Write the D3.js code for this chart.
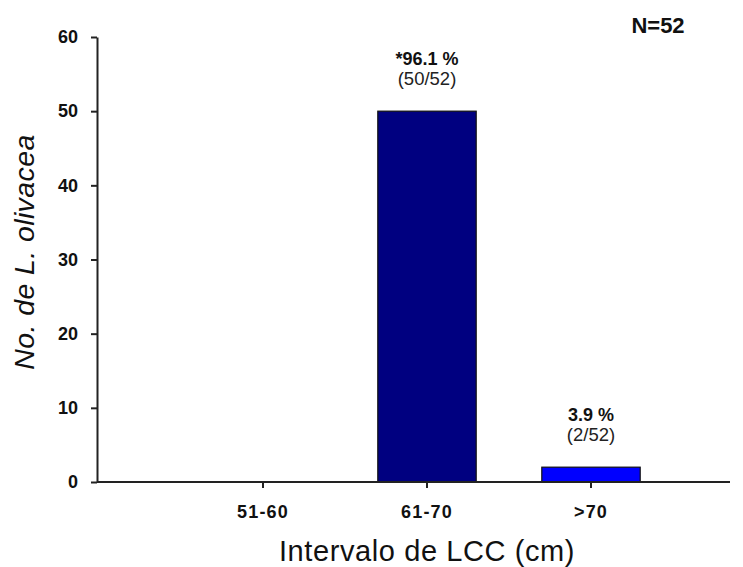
<!DOCTYPE html>
<html>
<head>
<meta charset="utf-8">
<script src="https://cdn.jsdelivr.net/npm/d3@7"></script>
<style>
  body { margin: 0; background: #fff; }
  svg { display: block; font-family: "Liberation Sans", Arial, sans-serif; }
</style>
</head>
<body>
<svg id="chart" width="743" height="567"></svg>
<script>
const CATEGORIES = ['51-60', '61-70', '>70'];
const COUNTS = [0, 50, 2];
const PCT_LABELS = ['', '*96.1 %', '3.9 %'];
const FRAC_LABELS = ['', '(50/52)', '(2/52)'];
const BAR_COLORS = ['#000080', '#000080', '#0000ff'];
const Y_TICKS = [0, 10, 20, 30, 40, 50, 60];

(function () {
  const svg = d3.select('#chart');
  const m = { left: 97, right: 730, top: 37, bottom: 482 };
  const FONT = '"Liberation Sans", Arial, sans-serif';

  const x = d3.scaleBand().domain(CATEGORIES).range([181, 673]).padding(0);
  const y = d3.scaleLinear().domain([0, 60]).range([m.bottom, m.top]);
  const barW = x.bandwidth() * 0.6;

  // bars
  svg.selectAll('rect.bar')
    .data(CATEGORIES)
    .join('rect')
    .attr('class', 'bar')
    .attr('x', (d) => x(d) + (x.bandwidth() - barW) / 2)
    .attr('y', (d, i) => y(COUNTS[i]))
    .attr('width', barW)
    .attr('height', (d, i) => y(0) - y(COUNTS[i]))
    .attr('fill', (d, i) => BAR_COLORS[i])
    .attr('stroke', '#111')
    .attr('stroke-width', 1.2)
    .attr('display', (d, i) => COUNTS[i] > 0 ? null : 'none');

  // y axis
  const yAxis = svg.append('g')
    .attr('transform', `translate(${m.left},0)`)
    .call(d3.axisLeft(y).tickValues(Y_TICKS).tickSize(6).tickSizeOuter(0).tickPadding(13));
  yAxis.select('.domain').attr('stroke', '#222').attr('stroke-width', 2);
  yAxis.selectAll('.tick line').attr('stroke', '#222').attr('stroke-width', 2);
  yAxis.selectAll('.tick text')
    .style('font-size', '18px').style('font-weight', 'bold').style('font-family', FONT)
    .attr('fill', '#111');

  // x axis
  const xAxis = svg.append('g')
    .attr('transform', `translate(0,${m.bottom})`)
    .call(d3.axisBottom(x).tickSize(6).tickSizeOuter(0).tickPadding(17));
  xAxis.select('.domain').remove();
  xAxis.append('line')
    .attr('x1', m.left).attr('x2', m.right).attr('y1', 0).attr('y2', 0)
    .attr('stroke', '#222').attr('stroke-width', 2);
  xAxis.selectAll('.tick line').attr('stroke', '#222').attr('stroke-width', 2);
  xAxis.selectAll('.tick text')
    .style('font-size', '18px').style('font-weight', 'bold').style('font-family', FONT)
    .style('letter-spacing', '1.2px')
    .attr('fill', '#111');

  // value labels
  const lab = svg.selectAll('g.lab')
    .data(CATEGORIES)
    .join('g')
    .attr('class', 'lab')
    .attr('transform', (d, i) => `translate(${x(d) + x.bandwidth() / 2},${y(COUNTS[i])})`);
  lab.append('text')
    .attr('y', -46).attr('text-anchor', 'middle')
    .style('font-size', '18px').style('font-weight', 'bold').attr('fill', '#111')
    .text((d, i) => PCT_LABELS[i]);
  lab.append('text')
    .attr('y', -26).attr('text-anchor', 'middle')
    .style('font-size', '18.5px').attr('fill', '#222')
    .text((d, i) => FRAC_LABELS[i]);

  // titles
  svg.append('text')
    .attr('x', 427).attr('y', 561).attr('text-anchor', 'middle')
    .style('font-size', '29px').style('letter-spacing', '0.6px').attr('fill', '#111')
    .text('Intervalo de LCC (cm)');

  svg.append('text')
    .attr('transform', 'translate(34,252) rotate(-90)')
    .attr('text-anchor', 'middle')
    .style('font-size', '28.5px').style('font-style', 'italic').style('letter-spacing', '0.4px')
    .attr('fill', '#111')
    .text('No. de L. olivacea');

  svg.append('text')
    .attr('x', 658).attr('y', 33).attr('text-anchor', 'middle')
    .style('font-size', '22px').style('font-weight', 'bold').attr('fill', '#111')
    .text('N=52');
})();
</script>
</body>
</html>
